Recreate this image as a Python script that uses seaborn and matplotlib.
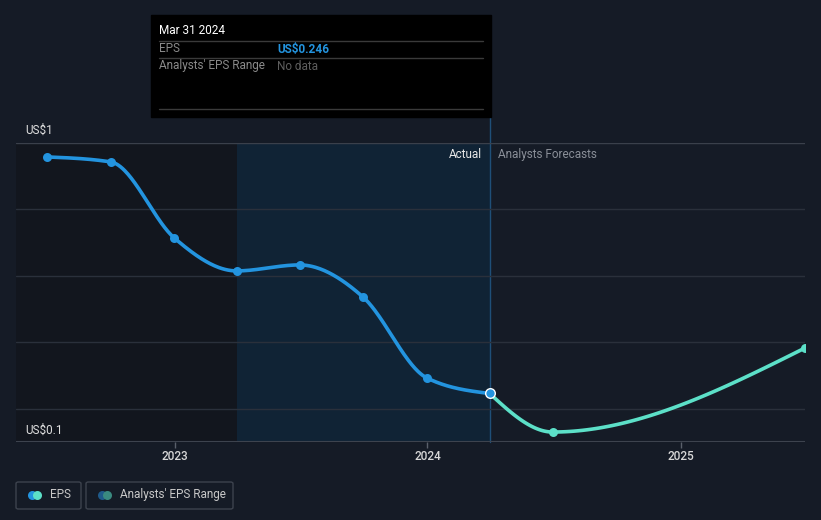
import numpy as np
import pandas as pd
import matplotlib
matplotlib.use("Agg")
import matplotlib.pyplot as plt
import matplotlib.dates as mdates
from matplotlib.patches import Rectangle, FancyBboxPatch
import seaborn as sns

# ---- data ----
actual_dates = ["2022-06-30", "2022-09-30", "2022-12-31", "2023-03-31",
                "2023-06-30", "2023-09-30", "2023-12-31", "2024-03-31"]
actual_eps = [0.958, 0.943, 0.714, 0.615, 0.633, 0.536, 0.293, 0.246]
forecast_dates = ["2024-03-31", "2024-06-30", "2025-06-30"]
forecast_eps = [0.246, 0.130, 0.383]
year_ticks = ["2023-01-01", "2024-01-01", "2025-01-01"]
year_labels = ["2023", "2024", "2025"]

BG = "#151b26"
BLUE = "#2394df"
TEAL = "#5ce0c8"
FONT = ["Roboto", "DejaVu Sans"]

sns.set_theme(style="dark")
plt.rcParams["font.family"] = FONT


def monotone(xs, ys, n=60):
    xs = np.asarray(xs, float); ys = np.asarray(ys, float)
    h = np.diff(xs); d = np.diff(ys) / h
    m = np.zeros_like(ys)
    for i in range(1, len(xs) - 1):
        if d[i - 1] * d[i] <= 0:
            m[i] = 0
        else:
            p = (d[i - 1] * h[i] + d[i] * h[i - 1]) / (h[i - 1] + h[i])
            m[i] = np.sign(p) * min(abs(p), 2 * min(abs(d[i - 1]), abs(d[i])))
    if len(xs) > 2:
        m[0] = (3 * d[0] - m[1]) / 2
        m[-1] = (3 * d[-1] - m[-2]) / 2
    else:
        m[0] = m[-1] = d[0]
    ox, oy = [], []
    for i in range(len(xs) - 1):
        t = np.linspace(0, 1, n)
        hh = h[i]
        h00 = 2 * t**3 - 3 * t**2 + 1
        h10 = t**3 - 2 * t**2 + t
        h01 = -2 * t**3 + 3 * t**2
        h11 = t**3 - t**2
        ox.append(xs[i] + t * hh)
        oy.append(h00 * ys[i] + h10 * hh * m[i] + h01 * ys[i + 1] + h11 * hh * m[i + 1])
    return np.concatenate(ox), np.concatenate(oy)


ad = pd.to_datetime(actual_dates)
fd = pd.to_datetime(forecast_dates)
ax_num = mdates.date2num(ad)
fx_num = mdates.date2num(fd)
acx, acy = monotone(ax_num, actual_eps)
fcx, fcy = monotone(fx_num, forecast_eps)

W, H = 821, 520
fig = plt.figure(figsize=(W / 100, H / 100), dpi=100, facecolor=BG)
ax = fig.add_axes([16 / W, 78 / H, (805 - 16) / W, (442 - 143) / H])
ax.set_facecolor(BG)

x0 = mdates.date2num(pd.Timestamp("2022-05-16"))
x1 = mdates.date2num(pd.Timestamp("2025-06-30"))
ax.set_xlim(x0, x1)
ax.set_ylim(0.1, 1.0)
dpp = (x1 - x0) / (805 - 16)  # days per pixel

# shaded regions
split = mdates.date2num(pd.Timestamp("2023-03-31"))
now = mdates.date2num(pd.Timestamp("2024-03-31"))
ax.axvspan(x0, split, color="#12161e", zorder=0, lw=0)
ax.axvspan(split, now, color="#102335", zorder=0, lw=0)
ax.plot([now, now], [0.1, 1.0 + 26 / 332.2], color="#1f4f78", lw=1, clip_on=False, zorder=1)

# grid
for v in [0.2, 0.4, 0.6, 0.8]:
    ax.axhline(v, color="#2a303b", lw=1, zorder=1)
ax.axhline(1.0, color="#3a404b", lw=1, zorder=1)
ax.axhline(0.1, color="#3d434e", lw=1.5, zorder=1)

# lines
sns.lineplot(x=acx, y=acy, ax=ax, color=BLUE, lw=2.6, sort=False, zorder=3)
sns.lineplot(x=fcx, y=fcy, ax=ax, color=TEAL, lw=2.6, sort=False, zorder=3)
sns.scatterplot(x=ax_num[:-1], y=actual_eps[:-1], ax=ax, color=BLUE, s=42, linewidth=0, zorder=4)
sns.scatterplot(x=fx_num[1:], y=forecast_eps[1:], ax=ax, color=TEAL, s=42, linewidth=0, zorder=4)
ax.scatter([ax_num[-1]], [actual_eps[-1]], color=BLUE, s=48, edgecolor="white", linewidth=1, zorder=5)

# ticks
ticks = mdates.date2num(pd.to_datetime(year_ticks))
ax.set_xticks(ticks)
ax.set_xticklabels(year_labels, color="#d8d8d8", fontsize=8.5, fontweight="medium")
ax.tick_params(axis="x", length=4, width=1, color="#5a606b", pad=2, direction="out", bottom=True)
ax.set_yticks([])
ax.set_xlabel(""); ax.set_ylabel("")
for s in ax.spines.values():
    s.set_visible(False)

# y labels
ax.text(0.012, 1.0 + 13 / 332.2, "US$1", transform=ax.get_yaxis_transform(), color="#e0e0e0",
        fontsize=8.5, va="center", ha="left")
ax.text(0.012, 0.1 + 12 / 332.2, "US$0.1", transform=ax.get_yaxis_transform(), color="#e0e0e0",
        fontsize=8.5, va="center", ha="left")
ax.text(now - 8 * dpp, 1.0 - 11 / 332.2, "Actual", color="#e8e8e8", fontsize=8.5, ha="right", va="center")
ax.text(now + 8 * dpp, 1.0 - 11 / 332.2, "Analysts Forecasts", color="#8a8f98", fontsize=8.5, ha="left", va="center")

# tooltip (figure pixel coords)
def fx(px): return px / W
def fy(py): return 1 - py / H

fig.patches.append(Rectangle((fx(151), fy(117)), (491 - 151) / W, (117 - 15) / H,
                             transform=fig.transFigure, color="#000000", zorder=10))
for yy in [41, 58, 109]:
    fig.lines.append(plt.Line2D([fx(159), fx(483)], [fy(yy), fy(yy)], transform=fig.transFigure,
                                color="#3a3a3a", lw=1, zorder=11))
fig.text(fx(159), fy(31), "Mar 31 2024", color="#ffffff", fontsize=8.5, va="center", zorder=12)
fig.text(fx(159), fy(49), "EPS", color="#8a8a8a", fontsize=8.5, va="center", zorder=12)
fig.text(fx(277), fy(49), "US$0.246", color=BLUE, fontsize=8.5, fontweight="bold", va="center", zorder=12)
fig.text(fx(159), fy(66), "Analysts' EPS Range", color="#8a8a8a", fontsize=8.5, va="center", zorder=12)
fig.text(fx(277), fy(66), "No data", color="#5e5e5e", fontsize=8.5, va="center", zorder=12)

# legend
for (l, r) in [(16, 81), (86, 233)]:
    fig.patches.append(FancyBboxPatch((fx(l), fy(509)), (r - l) / W, (509 - 482) / H,
                                      boxstyle="round,pad=0,rounding_size=0.003",
                                      transform=fig.transFigure, facecolor="none",
                                      edgecolor="#3d434e", lw=1))
def dot(px, py, c):
    fig.lines.append(plt.Line2D([fx(px)], [fy(py)], transform=fig.transFigure, marker="o",
                                markersize=6.5, markerfacecolor=c, markeredgewidth=0, linestyle="none"))
dot(32, 494.5, BLUE); dot(37, 494.5, TEAL)
dot(102, 494.5, "#1f5a8a"); dot(107, 494.5, "#3a8a80")
fig.text(fx(50), fy(494.5), "EPS", color="#c8c8c8", fontsize=8.5, va="center")
fig.text(fx(120), fy(494.5), "Analysts' EPS Range", color="#c8c8c8", fontsize=8.5, va="center")

fig.savefig("out.png", dpi=100, facecolor=BG)
